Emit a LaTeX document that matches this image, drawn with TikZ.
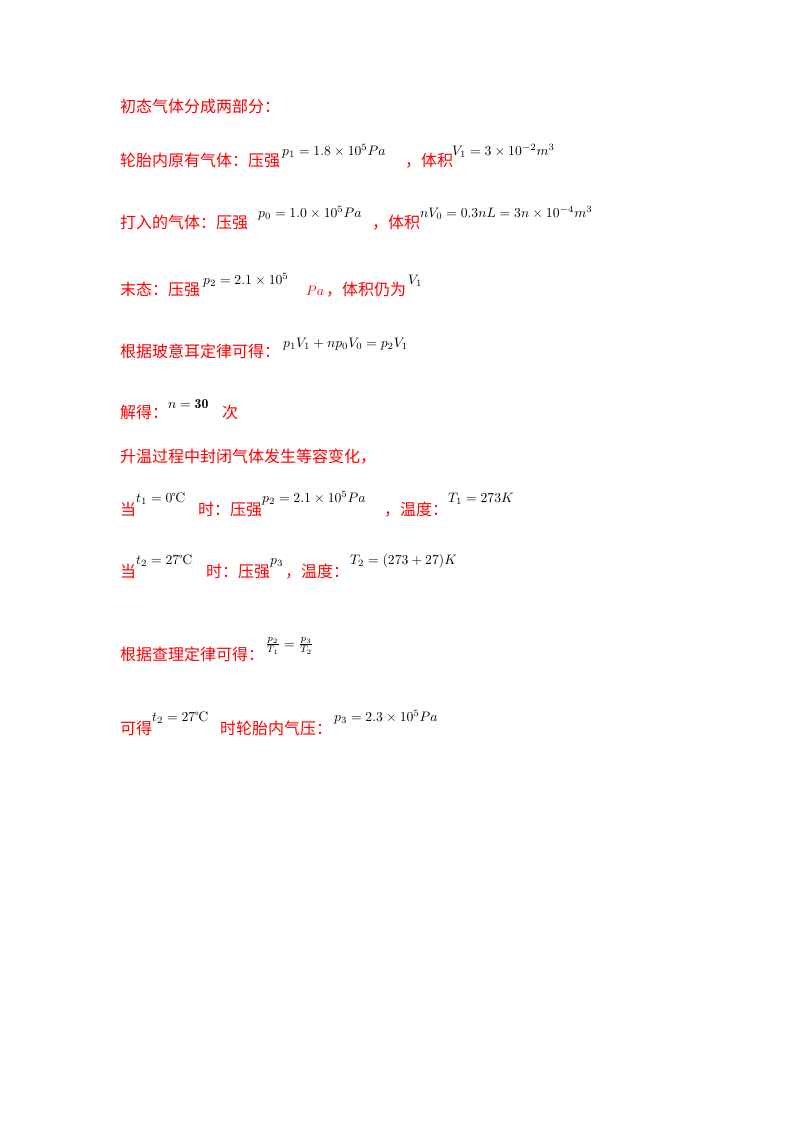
\documentclass[tikz,border=0pt]{standalone}
\usepackage{fontspec}
\newfontfamily\cjk{Noto Sans CJK SC}
\newcommand{\Mth}[1]{\scalebox{1.37}{#1}}
\begin{document}
\begin{tikzpicture}[x=1pt,y=-1pt,
  zh/.style={anchor=base west,inner sep=0pt,text=red,font=\cjk\fontsize{16}{18}\selectfont},
  mt/.style={anchor=base west,inner sep=0pt,text=black}]
\useasboundingbox (0,0) rectangle (800,1132);
\node[zh] (a1) at (120,112) {初态气体分成两部分：};
\node[zh] (b1) at (120,166) {轮胎内原有气体：压强};
\node[mt] (b2) at (282,155) {\Mth{$p_1=1.8\times10^5Pa$}};
\node[zh] (b3) at (405,166) {，体积};
\node[mt] (b4) at (452,155) {\Mth{$V_1=3\times10^{-2}m^3$}};
\node[zh] (c1) at (120,228) {打入的气体：压强};
\node[mt] (c2) at (258,217) {\Mth{$p_0=1.0\times10^5Pa$}};
\node[zh] (c3) at (372,228) {，体积};
\node[mt] (c4) at (420,217) {\Mth{$nV_0=0.3nL=3n\times10^{-4}m^3$}};
\node[zh] (d1) at (120,295) {末态：压强};
\node[mt] (d2) at (203,284) {\Mth{$p_2=2.1\times10^5$}};
\node[mt,text=red] (d3a) at (306,295) {\Mth{$Pa$}};
\node[zh] (d3) at (326,295) {，体积仍为};
\node[mt] (d4) at (408,284) {\Mth{$V_1$}};
\node[zh] (e1) at (120,357) {根据玻意耳定律可得：};
\node[mt] (e2) at (283,347) {\Mth{$p_1V_1+np_0V_0=p_2V_1$}};
\node[zh] (f1) at (120,418) {解得：};
\node[mt] (f2) at (168,408) {\Mth{$n=\mathbf{30}$}};
\node[zh] (f3) at (222,418) {次};
\node[zh] (g1) at (120,462) {升温过程中封闭气体发生等容变化，};
\node[zh] (h1) at (120,515) {当};
\node[mt] (h2) at (136,502) {\Mth{$t_1=0$℃}};
\node[zh] (h3) at (198,515) {时：压强};
\node[mt] (h4) at (262,502) {\Mth{$p_2=2.1\times10^5Pa$}};
\node[zh] (h5) at (384,515) {，};
\node[zh] (h6) at (400,515) {温度：};
\node[mt] (h7) at (448,502) {\Mth{$T_1=273K$}};
\node[zh] (i1) at (120,577) {当};
\node[mt] (i2) at (136,564) {\Mth{$t_2=27$℃}};
\node[zh] (i3) at (206,577) {时：压强};
\node[mt] (i4) at (270,564) {\Mth{$p_3$}};
\node[zh] (i5) at (285,577) {，温度：};
\node[mt] (i6) at (350,564) {\Mth{$T_2=(273+27)K$}};
\node[zh] (j1) at (120,660) {根据查理定律可得：};
\node[mt] (j2) at (265,648) {\Mth{$\frac{p_2}{T_1}=\frac{p_3}{T_2}$}};
\node[zh] (k1) at (120,734) {可得};
\node[mt] (k2) at (152,721) {\Mth{$t_2=27$℃}};
\node[zh] (k3) at (220,734) {时轮胎内气压：};
\node[mt] (k4) at (334,721) {\Mth{$p_3=2.3\times10^5Pa$}};
\end{tikzpicture}
\end{document}
